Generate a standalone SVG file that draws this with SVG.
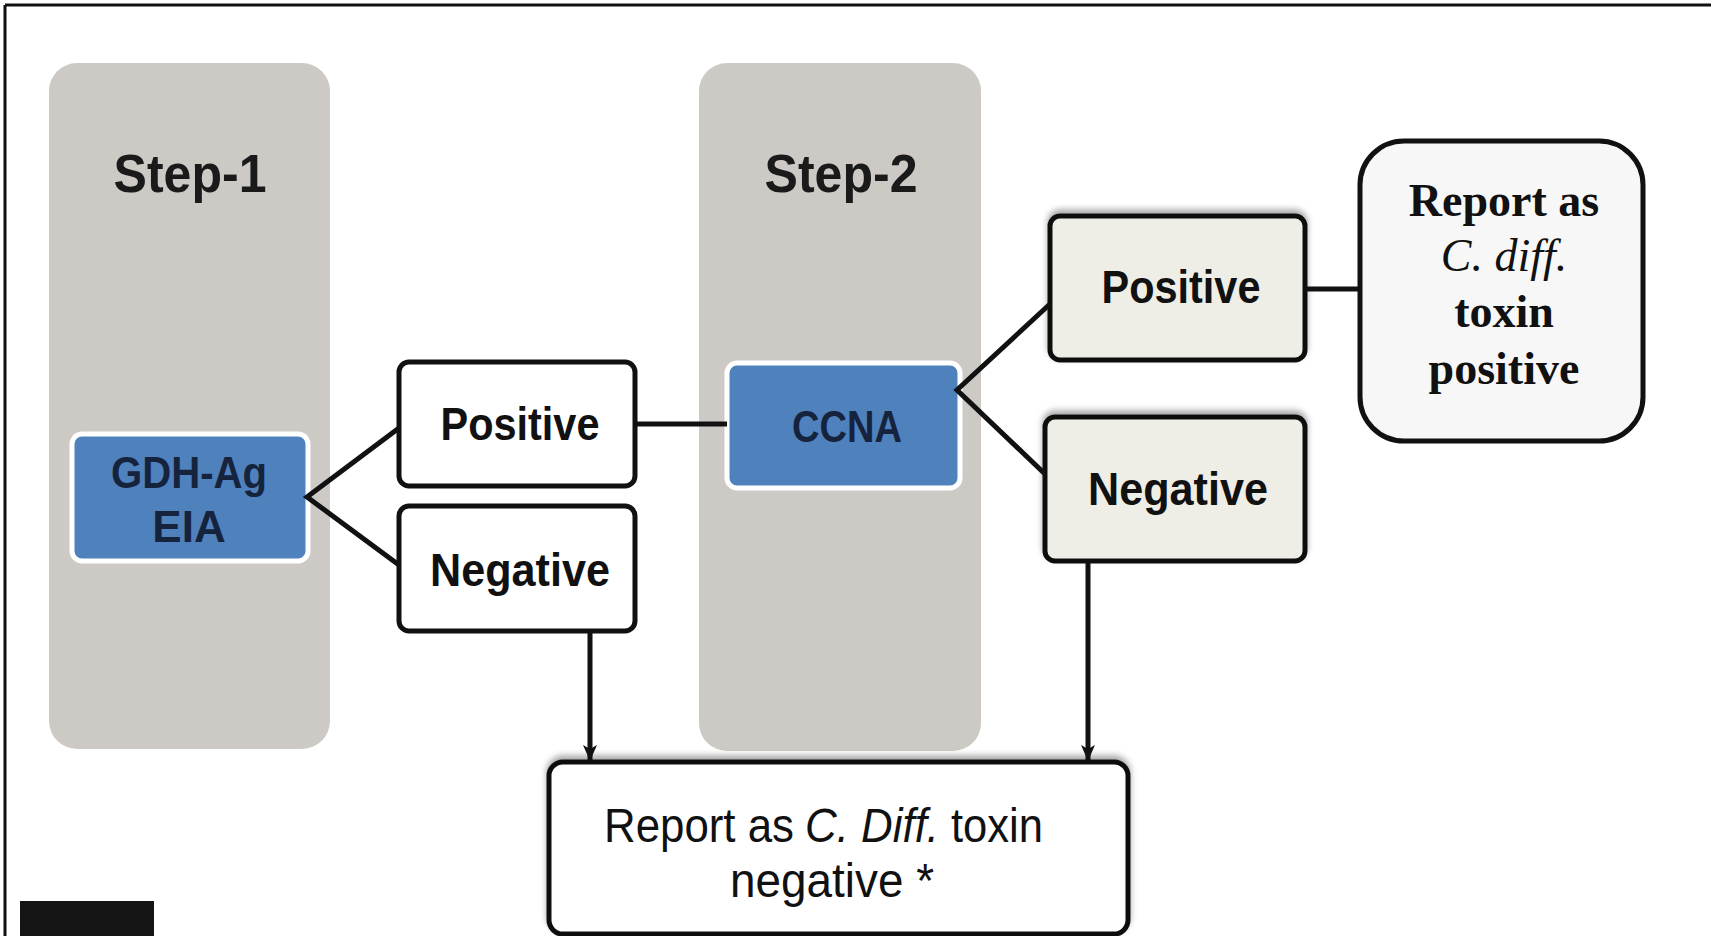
<svg xmlns="http://www.w3.org/2000/svg" width="1711" height="936" viewBox="0 0 1711 936">
  <defs>
    <style>
      .panel { fill: #cdcac6; }
      .blue { fill: #4f81bd; stroke: #ffffff; stroke-width: 5; }
      .box { fill: #ffffff; stroke: #111111; stroke-width: 5; }
      .beige { fill: #efeee6; stroke: #111111; stroke-width: 5; }
      .report { fill: #f7f7f7; stroke: #111111; stroke-width: 5; }
      .sans { font-family: "Liberation Sans", Arial, sans-serif; }
      .serif { font-family: "Liberation Serif", "Times New Roman", serif; }
      .step { font-weight: bold; font-size: 54px; fill: #1a1a1a; text-anchor: middle; }
      .lbl { font-weight: bold; font-size: 46px; fill: #111111; text-anchor: middle; }
      .blt { font-weight: bold; font-size: 44px; fill: #16233d; text-anchor: middle; }
      .rep { font-weight: bold; font-size: 46px; fill: #111111; text-anchor: middle; }
      .repi { font-weight: normal; font-style: italic; font-size: 46px; fill: #111111; text-anchor: middle; }
      .bot { font-size: 48px; fill: #111111; }
      .conn { stroke: #111111; stroke-width: 5; fill: none; }
    </style>
    <marker id="arr" viewBox="0 0 16 14" refX="15" refY="7" markerWidth="16" markerHeight="14" markerUnits="userSpaceOnUse" orient="auto">
      <path d="M0,0 L16,7 L0,14 L4,7 Z" fill="#111111"/>
    </marker>
    <filter id="sh" x="-10%" y="-20%" width="120%" height="140%">
      <feDropShadow dx="0" dy="-4" stdDeviation="3" flood-color="#000000" flood-opacity="0.35"/>
    </filter>
  </defs>

  <rect x="0" y="0" width="1711" height="936" fill="#ffffff"/>
  <g id="frame">
    <line x1="5" y1="5" x2="1711" y2="5" stroke="#111111" stroke-width="3"/>
    <line x1="5" y1="5" x2="5" y2="936" stroke="#111111" stroke-width="3"/>
    <rect x="20" y="901" width="134" height="35" fill="#141414"/>
  </g>

  <g id="step1-panel">
    <rect class="panel" x="49" y="63" width="281" height="686" rx="28"/>
    <text class="sans step" x="190" y="192" textLength="153" lengthAdjust="spacingAndGlyphs">Step-1</text>
  </g>
  <g id="step2-panel">
    <rect class="panel" x="699" y="63" width="282" height="688" rx="28"/>
    <text class="sans step" x="841" y="192" textLength="153" lengthAdjust="spacingAndGlyphs">Step-2</text>
  </g>

  <g id="gdh">
    <rect class="blue" x="72" y="434" width="236" height="127" rx="10"/>
    <text class="sans blt" x="189" y="488" textLength="156" lengthAdjust="spacingAndGlyphs">GDH-Ag</text>
    <text class="sans blt" x="189" y="542">EIA</text>
  </g>

  <g id="pos1">
    <rect class="box" x="399" y="362" width="236" height="124" rx="10"/>
    <text class="sans lbl" x="520" y="440" textLength="159" lengthAdjust="spacingAndGlyphs">Positive</text>
  </g>
  <g id="neg1">
    <rect class="box" x="399" y="506" width="236" height="125" rx="10"/>
    <text class="sans lbl" x="520" y="586" textLength="180" lengthAdjust="spacingAndGlyphs">Negative</text>
  </g>

  <g id="ccna">
    <rect class="blue" x="727" y="363" width="233" height="125" rx="10"/>
    <text class="sans blt" x="847" y="442" textLength="110" lengthAdjust="spacingAndGlyphs">CCNA</text>
  </g>

  <g id="pos2">
    <rect class="beige" x="1050" y="216" width="255" height="144" rx="10" filter="url(#sh)"/>
    <text class="sans lbl" x="1181" y="303" textLength="159" lengthAdjust="spacingAndGlyphs">Positive</text>
  </g>
  <g id="neg2">
    <rect class="beige" x="1045" y="417" width="260" height="144" rx="10" filter="url(#sh)"/>
    <text class="sans lbl" x="1178" y="505" textLength="180" lengthAdjust="spacingAndGlyphs">Negative</text>
  </g>

  <g id="report-positive">
    <rect class="report" x="1360" y="141" width="283" height="300" rx="44"/>
    <text class="serif rep" x="1504" y="216">Report as</text>
    <text class="serif repi" x="1504" y="271">C. diff.</text>
    <text class="serif rep" x="1504" y="327">toxin</text>
    <text class="serif rep" x="1504" y="384">positive</text>
  </g>

  <g id="report-negative">
    <rect class="box" x="549" y="762" width="579" height="172" rx="14" filter="url(#sh)"/>
    <text class="sans bot" x="604" y="842" textLength="190" lengthAdjust="spacingAndGlyphs">Report as</text>
    <text class="sans bot" x="805" y="842" font-style="italic" textLength="134" lengthAdjust="spacingAndGlyphs">C. Diff.</text>
    <text class="sans bot" x="951" y="842" textLength="92" lengthAdjust="spacingAndGlyphs">toxin</text>
    <text class="sans bot" x="832" y="897" text-anchor="middle" textLength="204" lengthAdjust="spacingAndGlyphs">negative *</text>
  </g>

  <g id="connectors">
    <polyline class="conn" points="399,428 307,497 399,565"/>
    <line class="conn" x1="635" y1="424" x2="727" y2="424"/>
    <polyline class="conn" points="1050,304 957,390 1045,474"/>
    <line class="conn" x1="1305" y1="289" x2="1360" y2="289"/>
    <line class="conn" x1="590" y1="631" x2="590" y2="760" marker-end="url(#arr)"/>
    <line class="conn" x1="1088" y1="561" x2="1088" y2="760" marker-end="url(#arr)"/>
  </g>
</svg>
